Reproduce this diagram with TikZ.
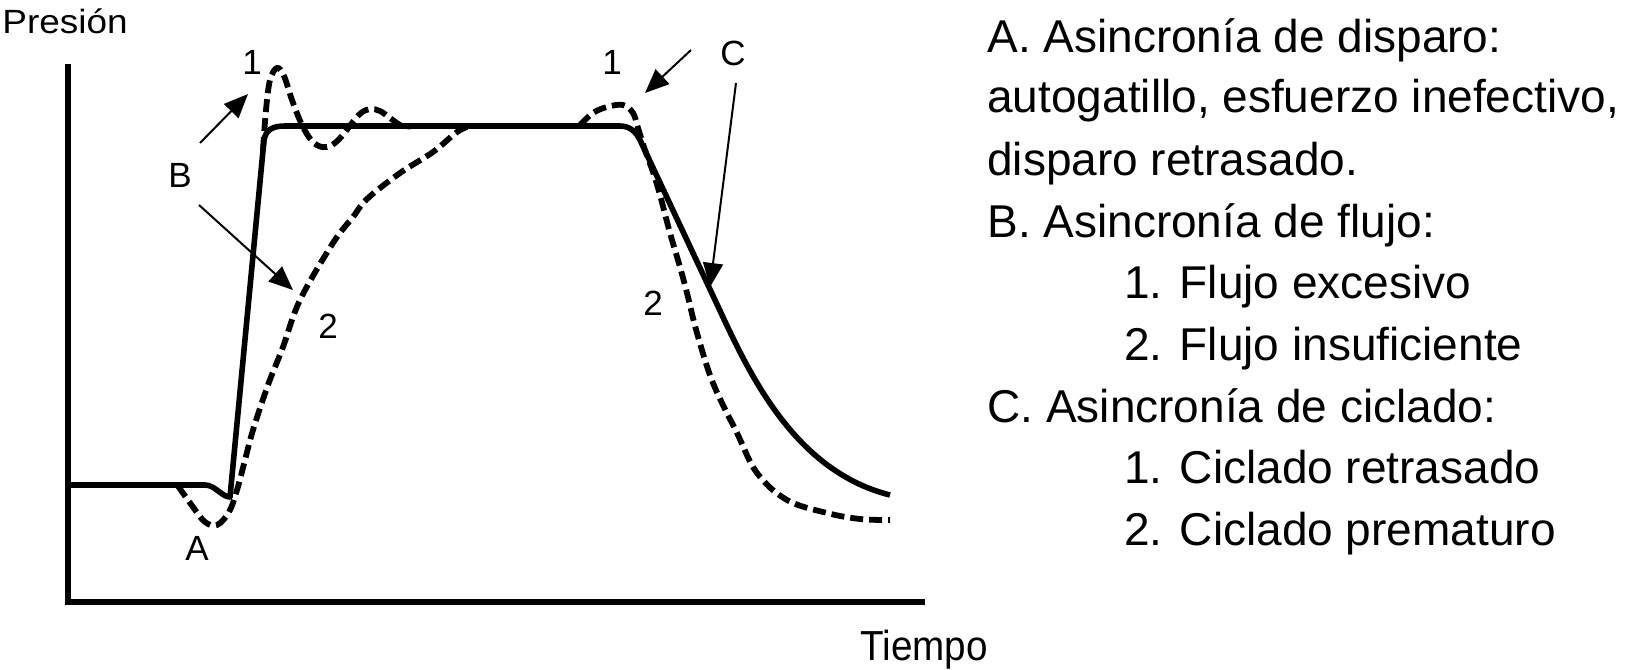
\documentclass[tikz,border=0pt]{standalone}
\usepackage{fontspec}
\setmainfont{Liberation Sans}
\newfontfamily\wideafont[FakeStretch=1.1]{Liberation Sans}
\newfontfamily\tiempofont[FakeStretch=0.92]{Liberation Sans}
\usetikzlibrary{arrows.meta}
\begin{document}
\begin{tikzpicture}[x=0.5pt,y=-0.5pt,
  axis/.style={line width=3pt},
  solidc/.style={line width=2.8pt, line join=round},
  dashc/.style={line width=2.9pt, dash pattern=on 6.5pt off 3pt},
  lbl/.style={inner sep=0pt, anchor=base, font=\fontsize{17.5pt}{20pt}\selectfont},
  item/.style={inner sep=0pt, anchor=base west, font=\fontsize{23pt}{27pt}\selectfont},
  pointer/.style={line width=1pt, -{Triangle[length=12pt,width=10pt]}}]
\useasboundingbox (0,0) rectangle (1642,669);
% axes
\coordinate (ytop) at (68,64);
\coordinate (orig) at (68,602);
\coordinate (xend) at (925,602);
\draw[axis] (ytop) -- (orig) -- (xend);
\node[inner sep=0pt, anchor=base west, font=\wideafont\fontsize{16.8pt}{19pt}\selectfont] (pres) at (2,33) {Presión};
\node[inner sep=0pt, anchor=base west, font=\tiempofont\fontsize{21pt}{24pt}\selectfont] (tiempo) at (860,660) {Tiempo};
% solid curve
\draw[solidc] (68,485) -- (205,485) .. controls (215,485) and (222,497) .. (230,497)
  -- (264,140) .. controls (266,130) and (272,126) .. (285,126)
  -- (620,126) .. controls (630,126) and (636,132) .. (640,140)
  -- (715,300) .. controls (745,364) and (790,470) .. (890,495);
% dashed: dip A + insufficient flow
\draw[dashc] plot[smooth, tension=0.6] coordinates {(178,486) (193,507) (205,522) (217,525) (229,512) (237,490) (245,460) (253,430) (268,385) (283,347) (300,300) (333,243) (353,217) (367,199) (400,173) (433,152) (457,132) (470,126)};
% dashed: excess flow
\draw[dashc] plot[smooth, tension=0.6] coordinates {(263,150) (266,110) (270,80) (277,68) (284,76) (292,100) (302,125) (312,141) (322,147) (332,145) (342,136) (352,123) (361,113) (370,109) (380,111) (390,118) (402,126) (412,126)};
% dashed: end (delayed / premature cycling)
\draw[dashc] plot[smooth, tension=0.6] coordinates {(580,125) (593,113) (607,107) (623,105) (633,113) (638,128) (645,150) (653,172) (660,195) (670,233) (680,267) (687,293) (697,333) (713,383) (737,433) (757,473) (787,500) (827,513) (860,519) (890,520)};
% labels
\node[lbl] (l1a) at (252,74) {1};
\node[lbl] (lB) at (180,187) {B};
\node[lbl] (l2a) at (328,338) {2};
\node[lbl] (lA) at (197,560) {A};
\node[lbl] (l1b) at (612,74) {1};
\node[lbl] (lC) at (733,65) {C};
\node[lbl] (l2b) at (653,315) {2};
% arrows
\coordinate (b1s) at (200,143); \coordinate (b1e) at (248,94);
\coordinate (b2s) at (199,205); \coordinate (b2e) at (293,290);
\coordinate (c1s) at (691,50);  \coordinate (c1e) at (645,93);
\coordinate (c2s) at (736,83);  \coordinate (c2e) at (710,287);
\draw[pointer] (b1s) -- (b1e);
\draw[pointer] (b2s) -- (b2e);
\draw[pointer] (c1s) -- (c1e);
\draw[pointer] (c2s) -- (c2e);
% legend
\node[item] (t1) at (987,52) {A. Asincronía de disparo:};
\node[item] (t2) at (987,112) {autogatillo, esfuerzo inefectivo,};
\node[item] (t3) at (987,175) {disparo retrasado.};
\node[item] (t4) at (987,237) {B. Asincronía de flujo:};
\node[item] (t5) at (1124,298) {1. Flujo excesivo};
\node[item] (t6) at (1124,360) {2. Flujo insuficiente};
\node[item] (t7) at (987,422) {C. Asincronía de ciclado:};
\node[item] (t8) at (1124,483) {1. Ciclado retrasado};
\node[item] (t9) at (1124,545) {2. Ciclado prematuro};
\end{tikzpicture}
\end{document}
